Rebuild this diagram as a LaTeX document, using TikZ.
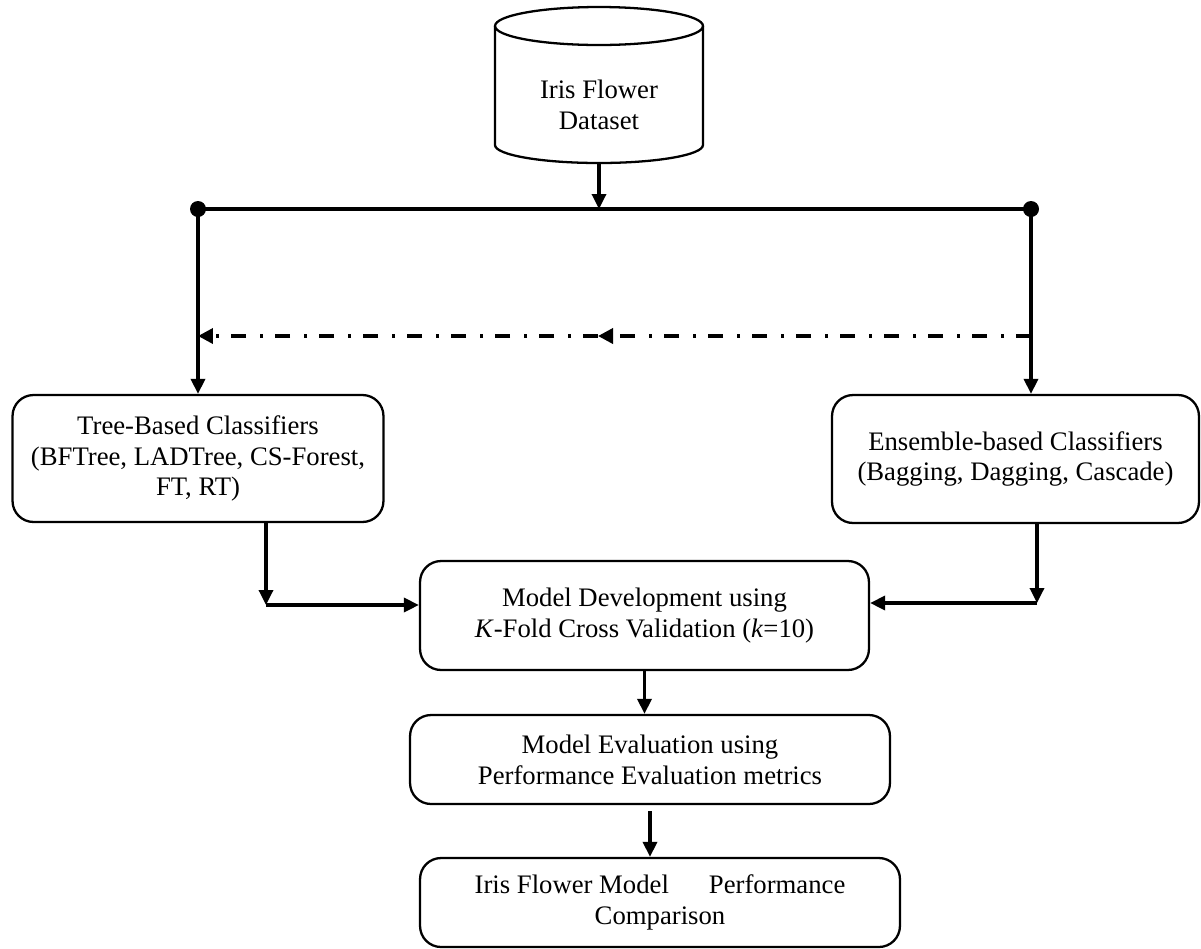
\documentclass[tikz,border=0pt]{standalone}
\usepackage{fontspec}
\setmainfont{Liberation Serif}
\usetikzlibrary{shapes.geometric,arrows.meta,positioning}

\tikzset{
  blk/.style={draw, line width=1.3pt, rounded corners=0.42cm, align=center, inner sep=2pt},
  flow/.style={line width=1.9pt, -{Triangle[length=0.3cm,width=0.28cm]}},
  bus/.style={line width=1.9pt},
  dashdot/.style={line width=2pt, dash pattern=on 0.3cm off 0.24cm on 0.07cm off 0.27cm, -{Triangle[length=0.3cm,width=0.3cm]}},
}

\begin{document}
\begin{tikzpicture}[x=0.02cm, y=-0.02cm, font=\fontsize{15.2}{17.6}\selectfont]
\useasboundingbox (0,0) rectangle (1201,948);
% data source (drum):
\draw[line width=1.3pt] (599,26) ellipse [x radius=2.08cm, y radius=0.38cm];
\draw[line width=1.3pt] (495,26) -- (495,145)
  arc[start angle=180, end angle=360, x radius=2.08cm, y radius=0.36cm] -- (703,26);
\node[align=center] (data) at (599,105) {Iris Flower\\Dataset};
\coordinate (dbot) at (599,163);
% classifier boxes:
\node[blk, minimum width=7.42cm, minimum height=2.54cm] (tree) at (198,458.5)
  {Tree-Based Classifiers\\(BFTree, LADTree, CS-Forest,\\FT, RT)};
\node[blk, minimum width=7.34cm, minimum height=2.56cm] (ens) at (1015.5,459)
  {Ensemble-based Classifiers\\(Bagging, Dagging, Cascade)};
% model boxes:
\node[blk, minimum width=8.98cm, minimum height=2.18cm] (dev) at (644.5,615.5)
  {Model Development using\\\textit{K}-Fold Cross Validation (\textit{k}=10)};
\node[blk, minimum width=9.6cm, minimum height=1.78cm] (eval) at (650,759.5)
  {Model Evaluation using\\Performance Evaluation metrics};
\node[blk, minimum width=9.6cm, minimum height=1.78cm] (final) at (660,902.5)
  {Iris Flower Model\hspace{0.8cm}Performance\\Comparison};
% split line:
\coordinate (jl) at (198,209);
\coordinate (jr) at (1031,209);
\draw[flow] (dbot) -- (dbot |- jl);
\draw[bus] (jl) -- (jr);
\fill (jl) circle (0.16cm); \fill (jr) circle (0.16cm);
\draw[flow] (jl) -- (tree.north);
\draw[flow] (jr) -- (jr |- ens.north);
% dash-dot link:
\coordinate (dr) at (1031,336);
\coordinate (dm) at (598,336);
\coordinate (dl) at (198,336);
\draw[dashdot] (dr) -- (dm);
\draw[dashdot] (dm) -- (dl);
% into model development:
\coordinate (tc) at (266,605);
\coordinate (ec) at (1037,603);
\draw[flow] (tree.south -| tc) -- (tc);
\draw[flow] (tc) -- (dev.west |- tc);
\draw[flow] (ens.south -| ec) -- (ec);
\draw[flow] (ec) -- (dev.east |- ec);
% evaluation chain:
\draw[flow] (dev.south) -- (dev.south |- eval.north);
\draw[flow, shorten <=0.12cm] (eval.south) -- (eval.south |- final.north);
\end{tikzpicture}
\end{document}
